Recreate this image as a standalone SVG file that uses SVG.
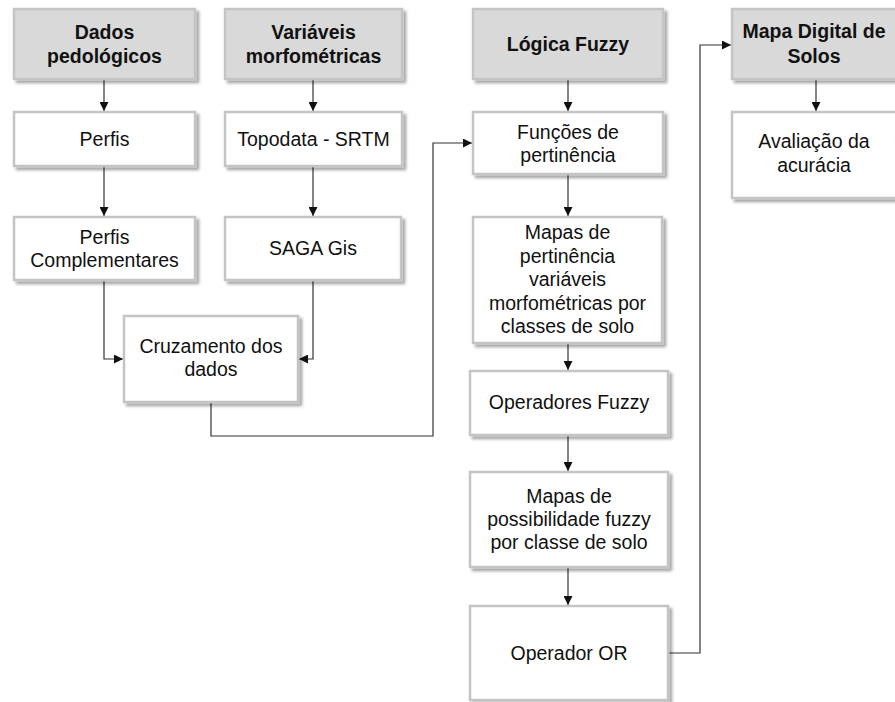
<svg xmlns="http://www.w3.org/2000/svg" width="895" height="702" viewBox="0 0 895 702">
<defs>
<filter id="sh" x="-10%" y="-10%" width="130%" height="130%">
<feGaussianBlur in="SourceAlpha" stdDeviation="1.5"/>
<feOffset dx="3" dy="3" result="b"/>
<feComponentTransfer><feFuncA type="linear" slope="0.35"/></feComponentTransfer>
<feMerge><feMergeNode/><feMergeNode in="SourceGraphic"/></feMerge>
</filter>
<marker id="ar" viewBox="0 0 10 10" refX="10" refY="5" markerWidth="9" markerHeight="9" markerUnits="userSpaceOnUse" orient="auto">
<path d="M0,0 L10,5 L0,10 z" fill="#111"/>
</marker>
<style>
.hd rect{fill:#d9d9d9;stroke:#c4c4c4;stroke-width:2.5;filter:url(#sh)}
.bx rect{fill:#fff;stroke:#c4c4c4;stroke-width:2.5;filter:url(#sh)}
text{font-family:"Liberation Sans",Arial,sans-serif;font-size:19.5px;fill:#111;text-anchor:middle}
.hd text{font-weight:bold}
.cn path{fill:none;stroke:#333;stroke-width:1.2;marker-end:url(#ar)}
</style>
</defs>
<rect width="895" height="702" fill="#fff"/>
<g class="cn" id="connectors">
<path d="M104,80 V111"/>
<path d="M313,80 V111"/>
<path d="M104,167 V216"/>
<path d="M313,167 V216"/>
<path d="M104,281 V359 H123"/>
<path d="M313,281 V359 H299"/>
<path d="M211,403 V436 H433 V143 H472"/>
<path d="M568,80 V111"/>
<path d="M568,175 V216"/>
<path d="M568,344 V370"/>
<path d="M568,436 V471"/>
<path d="M568,568 V605"/>
<path d="M669,653 H700 V45 H731"/>
<path d="M816,80 V111"/>
</g>
<g class="hd" id="dados"><rect x="14" y="9" width="181" height="70"/><text x="104.5" y="39">Dados</text><text x="104.5" y="63">pedológicos</text></g>
<g class="hd" id="variaveis"><rect x="225" y="9" width="177" height="70"/><text x="313.5" y="39">Variáveis</text><text x="313.5" y="63">morfométricas</text></g>
<g class="hd" id="logica"><rect x="473" y="9" width="190" height="70"/><text x="568" y="51">Lógica Fuzzy</text></g>
<g class="hd" id="mapadigital"><rect x="732" y="9" width="166" height="70"/><text x="814" y="38">Mapa Digital de</text><text x="814" y="63">Solos</text></g>
<g class="bx" id="perfis"><rect x="14" y="112" width="181" height="54"/><text x="104.5" y="146">Perfis</text></g>
<g class="bx" id="topodata"><rect x="225" y="112" width="177" height="54"/><text x="313.5" y="146">Topodata - SRTM</text></g>
<g class="bx" id="funcoes"><rect x="473" y="112" width="190" height="62"/><text x="568" y="139">Funções de</text><text x="568" y="162">pertinência</text></g>
<g class="bx" id="avaliacao"><rect x="732" y="112" width="166" height="86"/><text x="814" y="148">Avaliação da</text><text x="814" y="172">acurácia</text></g>
<g class="bx" id="perfiscomp"><rect x="14" y="217" width="181" height="63"/><text x="104.5" y="244">Perfis</text><text x="104.5" y="267">Complementares</text></g>
<g class="bx" id="saga"><rect x="225" y="217" width="176" height="63"/><text x="313" y="255">SAGA Gis</text></g>
<g class="bx" id="cruzamento"><rect x="124" y="316" width="174" height="86"/><text x="211" y="353">Cruzamento dos</text><text x="211" y="376">dados</text></g>
<g class="bx" id="mapaspert"><rect x="473" y="217" width="189" height="126"/><text x="567.5" y="239">Mapas de</text><text x="567.5" y="263">pertinência</text><text x="567.5" y="286">variáveis</text><text x="567.5" y="310">morfométricas por</text><text x="567.5" y="333">classes de solo</text></g>
<g class="bx" id="operadores"><rect x="470" y="371" width="198" height="64"/><text x="569" y="409">Operadores Fuzzy</text></g>
<g class="bx" id="mapaspos"><rect x="470" y="472" width="198" height="95"/><text x="569" y="503">Mapas de</text><text x="569" y="526">possibilidade fuzzy</text><text x="569" y="549">por classe de solo</text></g>
<g class="bx" id="operador"><rect x="470" y="606" width="198" height="94"/><text x="569" y="660">Operador OR</text></g>
</svg>
